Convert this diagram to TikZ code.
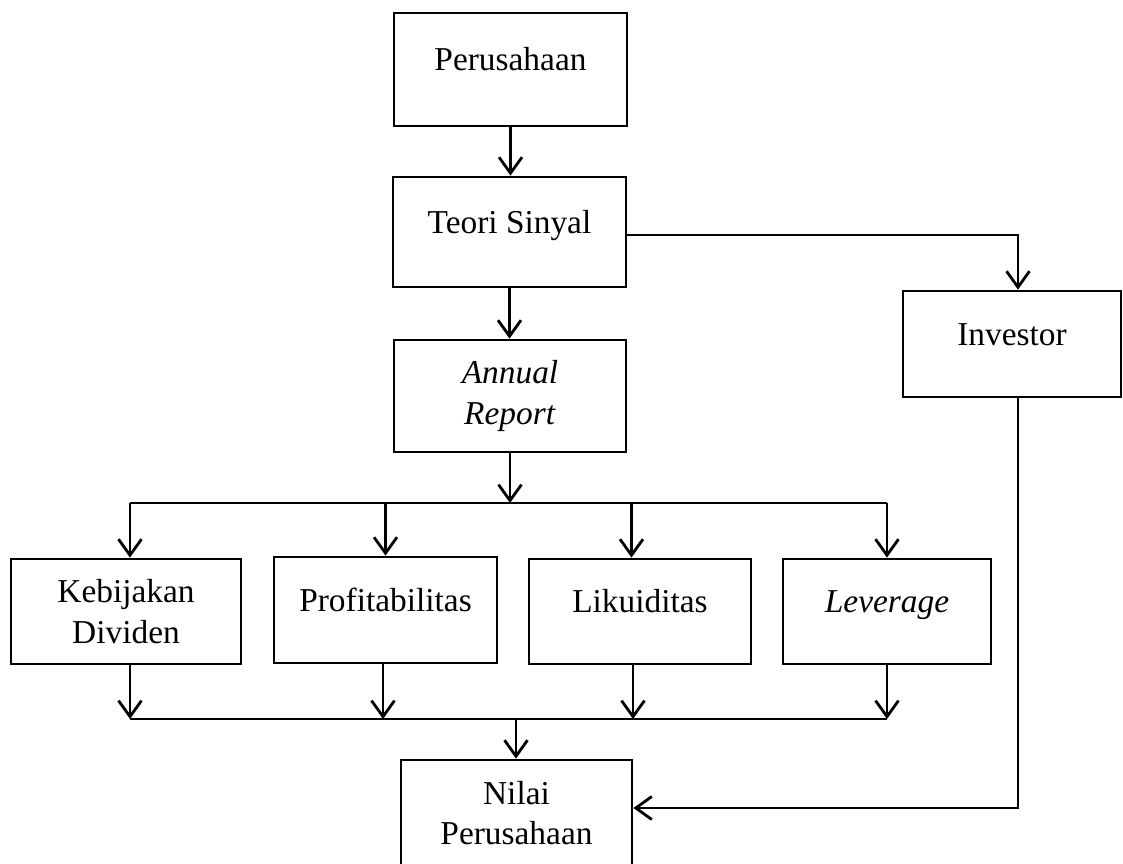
\documentclass[tikz,border=0pt]{standalone}
\usepackage{fontspec}
\setmainfont{Liberation Serif}
\usetikzlibrary{positioning, calc, arrows.meta}

\begin{document}
\begin{tikzpicture}[
    x=0.02cm, y=-0.02cm,
    font=\fontsize{19}{23}\selectfont,
    % Styles
    box/.style={
        rectangle,
        draw=black,
        fill=white,
        line width=1.6pt,
        align=center,
        inner sep=2pt
    },
    onebox/.style={
        box,
        text height=0.47cm,
        text depth=0.43cm
    },
    link/.style={
        draw=black,
        line width=1.5pt
    },
    arrow/.style={
        link,
        -{Straight Barb[length=0.32cm, width=0.46cm, line width=1.6pt]}
    }
]

    \useasboundingbox (0,0) rectangle (1123,863);
    \clip (0,0) rectangle (1123,863);

    % ================= MAIN CHAIN =================
    \node[onebox, minimum width=4.66cm, minimum height=2.26cm] (perusahaan) at (510.5,69.5) {Perusahaan};
    \node[onebox, minimum width=4.66cm, minimum height=2.2cm] (teori) at (509.5,232) {Teori Sinyal};
    \node[box, minimum width=4.64cm, minimum height=2.24cm] (annual) at (510,396) {\textit{Annual}\\ \textit{Report}};

    % Investor branch
    \node[onebox, minimum width=4.36cm, minimum height=2.12cm] (investor) at (1012,344) {Investor};

    % ================= VARIABLES =================
    \node[box, minimum width=4.6cm, minimum height=2.1cm] (kebijakan) at (126,611.5) {Kebijakan\\ Dividen};
    \node[onebox, minimum width=4.46cm, minimum height=2.12cm] (profit) at (385.5,610) {Profitabilitas};
    \node[onebox, minimum width=4.44cm, minimum height=2.1cm] (likuid) at (640,611.5) {Likuiditas};
    \node[onebox, minimum width=4.16cm, minimum height=2.1cm] (leverage) at (887,611.5) {\textit{Leverage}};

    % ================= OUTPUT =================
    \node[box, minimum width=4.62cm, minimum height=2.12cm] (nilai) at (516.5,813) {Nilai\\ Perusahaan};

    % ================= CONNECTIONS / ARROWS =================
    \coordinate (split) at (512,503);
    \coordinate (merge) at (516,719);

    \draw[arrow] (perusahaan.south) -- (perusahaan.south |- teori.north);
    \draw[arrow] (teori.south) -- (teori.south |- annual.north);
    \draw[arrow] ([yshift=-0.06cm]teori.east) -| ([xshift=0.12cm]investor.north);

    % Annual report splits into the four variables
    \draw[arrow] (annual.south) -- (annual.south |- split);
    \draw[link] ([xshift=0.08cm]kebijakan.north |- split) -- (leverage.north |- split);
    \foreach \n/\dx in {kebijakan/0.08cm, profit/0cm, likuid/-0.17cm, leverage/0cm}
        \draw[arrow] ([xshift=\dx]\n.north |- split) -- ([xshift=\dx]\n.north);

    % Variables merge into firm value
    \foreach \n/\dx in {kebijakan/0.08cm, profit/-0.05cm, likuid/-0.14cm, leverage/0cm}
        \draw[arrow] ([xshift=\dx]\n.south) -- ([xshift=\dx]\n.south |- merge);
    \draw[link] ([xshift=0.08cm]kebijakan.south |- merge) -- (leverage.south |- merge);
    \draw[arrow] (merge) -- (merge |- nilai.north);

    % Investor to firm value
    \draw[arrow] ([xshift=0.12cm]investor.south) |- ([yshift=0.1cm]nilai.east);

\end{tikzpicture}
\end{document}
